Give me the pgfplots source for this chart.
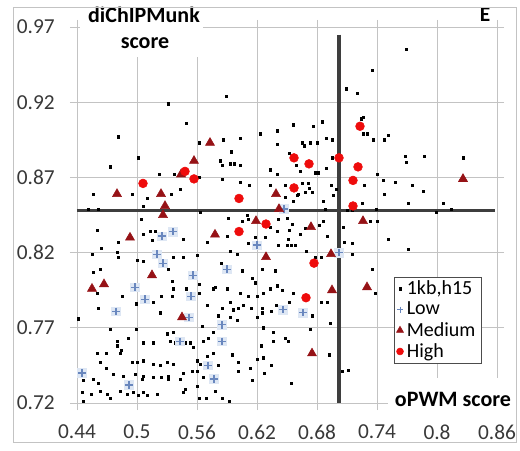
\documentclass[border=0pt]{standalone}
\usepackage{fontspec}
\setmainfont{Carlito}
\usepackage{pgfplots}
\pgfplotsset{compat=1.18}
\usepackage{pgfplotstable}

\definecolor{gridgray}{RGB}{195,195,195}
\definecolor{lowblue}{RGB}{105,135,190}
\definecolor{lowhalo}{RGB}{222,231,244}
\definecolor{medred}{RGB}{150,18,22}
\definecolor{highred}{RGB}{238,12,12}
\definecolor{refline}{RGB}{62,62,62}

% background set (1kb, h15)
\pgfplotstableread{
x y
0.531 0.919
0.589 0.924
0.549 0.906
0.481 0.897
0.562 0.893
0.501 0.883
0.473 0.877
0.522 0.872
0.537 0.872
0.562 0.870
0.456 0.859
0.495 0.859
0.510 0.856
0.534 0.859
0.543 0.862
0.506 0.851
0.451 0.849
0.461 0.849
0.563 0.847
0.504 0.842
0.769 0.955
0.735 0.941
0.709 0.929
0.720 0.926
0.726 0.910
0.724 0.909
0.730 0.899
0.726 0.899
0.751 0.898
0.747 0.895
0.736 0.895
0.768 0.884
0.769 0.880
0.787 0.884
0.826 0.883
0.740 0.872
0.727 0.865
0.746 0.868
0.758 0.867
0.775 0.865
0.786 0.861
0.747 0.859
0.771 0.853
0.806 0.853
0.814 0.849
0.799 0.847
0.725 0.853
0.739 0.849
0.733 0.841
0.740 0.841
0.460 0.835
0.481 0.827
0.506 0.832
0.513 0.834
0.518 0.834
0.515 0.828
0.546 0.829
0.546 0.817
0.464 0.823
0.455 0.819
0.481 0.817
0.480 0.820
0.500 0.815
0.506 0.814
0.456 0.807
0.463 0.809
0.531 0.809
0.536 0.817
0.535 0.801
0.560 0.818
0.570 0.827
0.460 0.793
0.461 0.783
0.441 0.776
0.485 0.791
0.499 0.786
0.524 0.791
0.516 0.787
0.523 0.780
0.535 0.791
0.536 0.796
0.549 0.796
0.562 0.799
0.562 0.793
0.576 0.796
0.570 0.785
0.473 0.769
0.480 0.761
0.480 0.758
0.484 0.755
0.499 0.769
0.491 0.763
0.506 0.760
0.516 0.760
0.533 0.761
0.536 0.767
0.530 0.766
0.538 0.760
0.548 0.760
0.553 0.760
0.556 0.757
0.560 0.748
0.563 0.746
0.560 0.741
0.555 0.741
0.546 0.740
0.536 0.746
0.530 0.747
0.523 0.745
0.516 0.746
0.500 0.747
0.495 0.747
0.506 0.748
0.483 0.753
0.469 0.753
0.460 0.753
0.463 0.747
0.469 0.743
0.456 0.736
0.461 0.733
0.463 0.728
0.446 0.735
0.445 0.727
0.454 0.726
0.476 0.739
0.486 0.738
0.498 0.739
0.505 0.736
0.506 0.738
0.516 0.737
0.524 0.737
0.531 0.738
0.531 0.736
0.543 0.736
0.548 0.729
0.560 0.731
0.566 0.737
0.546 0.727
0.520 0.726
0.501 0.725
0.510 0.725
0.506 0.727
0.496 0.727
0.490 0.726
0.483 0.728
0.473 0.723
0.470 0.726
0.446 0.721
0.562 0.723
0.569 0.723
0.576 0.753
0.570 0.751
0.571 0.763
0.566 0.761
0.565 0.771
0.576 0.767
0.751 0.829
0.771 0.822
0.735 0.809
0.738 0.793
0.656 0.905
0.640 0.901
0.676 0.904
0.685 0.907
0.623 0.899
0.603 0.896
0.586 0.895
0.594 0.887
0.640 0.892
0.665 0.893
0.667 0.891
0.673 0.893
0.680 0.893
0.689 0.896
0.695 0.895
0.652 0.886
0.583 0.881
0.593 0.879
0.597 0.879
0.603 0.878
0.585 0.878
0.659 0.878
0.663 0.874
0.633 0.875
0.640 0.872
0.678 0.873
0.681 0.873
0.689 0.876
0.695 0.883
0.694 0.865
0.699 0.862
0.696 0.858
0.686 0.854
0.656 0.854
0.665 0.866
0.672 0.863
0.671 0.866
0.675 0.860
0.668 0.860
0.661 0.859
0.648 0.865
0.633 0.865
0.612 0.865
0.603 0.867
0.585 0.869
0.648 0.857
0.660 0.858
0.710 0.848
0.715 0.848
0.688 0.849
0.591 0.843
0.610 0.845
0.611 0.842
0.605 0.841
0.641 0.842
0.650 0.843
0.655 0.839
0.633 0.837
0.640 0.834
0.652 0.835
0.663 0.832
0.668 0.836
0.682 0.838
0.686 0.841
0.690 0.831
0.641 0.825
0.650 0.825
0.654 0.825
0.658 0.825
0.651 0.829
0.628 0.830
0.611 0.826
0.618 0.830
0.600 0.819
0.593 0.821
0.590 0.831
0.669 0.821
0.678 0.817
0.684 0.817
0.715 0.819
0.715 0.826
0.707 0.827
0.706 0.837
0.584 0.813
0.605 0.808
0.615 0.803
0.618 0.800
0.625 0.809
0.638 0.808
0.633 0.796
0.640 0.798
0.645 0.795
0.656 0.793
0.611 0.791
0.620 0.791
0.626 0.793
0.603 0.793
0.590 0.796
0.578 0.797
0.593 0.787
0.585 0.783
0.596 0.782
0.601 0.783
0.606 0.785
0.614 0.783
0.625 0.783
0.625 0.780
0.634 0.781
0.639 0.785
0.652 0.787
0.675 0.778
0.684 0.787
0.690 0.787
0.581 0.778
0.593 0.777
0.600 0.775
0.620 0.777
0.626 0.770
0.673 0.769
0.693 0.773
0.636 0.767
0.648 0.763
0.651 0.761
0.636 0.761
0.624 0.758
0.595 0.752
0.581 0.745
0.601 0.747
0.626 0.750
0.620 0.749
0.634 0.745
0.613 0.743
0.601 0.741
0.627 0.740
0.615 0.735
0.692 0.752
0.654 0.733
0.578 0.728
0.585 0.723
0.592 0.721
0.705 0.741
0.711 0.742
}\dotdata

\pgfplotstableread{
x y
0.536 0.834
0.525 0.831
0.520 0.819
0.647 0.849
0.620 0.825
0.702 0.820
0.526 0.813
0.556 0.805
0.498 0.797
0.508 0.789
0.554 0.791
0.479 0.781
0.552 0.777
0.543 0.761
0.445 0.740
0.492 0.732
0.571 0.745
0.577 0.736
0.590 0.809
0.646 0.782
0.666 0.780
0.585 0.772
0.585 0.761
}\lowdata

\pgfplotstableread{
x y
0.573 0.893
0.557 0.881
0.544 0.872
0.480 0.859
0.524 0.859
0.528 0.851
0.526 0.845
0.493 0.830
0.578 0.832
0.639 0.859
0.642 0.849
0.619 0.841
0.674 0.837
0.629 0.817
0.694 0.819
0.826 0.869
0.726 0.841
0.695 0.795
0.675 0.753
0.730 0.797
0.515 0.805
0.467 0.799
0.455 0.796
0.545 0.777
}\meddata

\pgfplotstableread{
x y
0.506 0.866
0.548 0.874
0.557 0.869
0.657 0.883
0.672 0.879
0.702 0.883
0.723 0.904
0.721 0.877
0.716 0.868
0.716 0.851
0.657 0.863
0.602 0.856
0.629 0.839
0.602 0.834
0.677 0.813
0.669 0.790
}\highdata

\begin{document}
\begin{tikzpicture}
\useasboundingbox (-57.75pt,-35.25pt) rectangle (332.25pt,302.25pt);
\begin{axis}[
  at={(0pt,0pt)}, anchor=south west,
  scale only axis, width=315pt, height=282pt,
  xmin=0.44, xmax=0.86, ymin=0.72, ymax=0.97,
  xtick={0.44,0.5,0.56,0.62,0.68,0.74,0.8,0.86},
  xticklabels={0.44,0.5,0.56,0.62,0.68,0.74,0.8,0.86},
  ytick={0.72,0.77,0.82,0.87,0.92,0.97},
  yticklabels={0.72,0.77,0.82,0.87,0.92,0.97},
  grid=major,
  major grid style={gridgray, line width=0.7pt},
  axis line style={gridgray, line width=0.7pt},
  tick align=outside, major tick length=5.25pt,
  tick style={gridgray, line width=0.7pt},
  ticklabel style={font=\fontsize{16}{19}\selectfont, text=black!78, inner sep=0pt},
  xticklabel shift=11pt,
  yticklabel shift=11.25pt,
  legend style={at={(0.962,0.336)}, anchor=north east, draw=black!70,
    font=\fontsize{15}{17}\selectfont, inner sep=1.5pt, row sep=1pt,
    nodes={inner xsep=2.5pt, inner ysep=1.5pt}},
  legend cell align=left,
]
\addplot[only marks, mark=square*, mark size=0.85pt, black] table {\dotdata};
\addlegendentry{1kb,h15}
\addplot[only marks, mark=square*, mark size=3.2pt, lowhalo, forget plot] table {\lowdata};
\addplot[only marks, mark=+, mark size=2.8pt, lowblue, line width=0.9pt,
  legend image post style={mark size=2.2pt, line width=0.7pt}] table {\lowdata};
\addlegendentry{Low}
\addplot[only marks, mark=triangle*, mark size=3.9pt, medred,
  legend image post style={mark size=3pt}] table {\meddata};
\addlegendentry{Medium}
\addplot[only marks, mark=*, mark size=3.3pt, highred,
  legend image post style={mark size=2.6pt}] table {\highdata};
\addlegendentry{High}
\addplot[refline, line width=2.3pt, forget plot] coordinates {(0.44,0.848) (0.858,0.848)};
\addplot[refline, line width=2.3pt, forget plot] coordinates {(0.702,0.965) (0.702,0.72)};
\end{axis}
\fill[white] (2.5pt,259.5pt) rectangle (94.5pt,300pt);
\fill[white] (233.25pt,-12.75pt) rectangle (327.5pt,18.75pt);
\node[font=\bfseries\fontsize{16.5}{19}\selectfont] at (50.25pt,291pt) {diChIPMunk};
\node[font=\bfseries\fontsize{16.5}{19}\selectfont] at (51pt,270pt) {score};
\node[font=\bfseries\fontsize{16.5}{19}\selectfont] at (282pt,3pt) {oPWM score};
\node[font=\bfseries\fontsize{16}{19}\selectfont] at (306pt,291pt) {E};
\draw[gridgray, line width=0.7pt] (-48pt,-29.25pt) rectangle (329.25pt,297pt);
\end{tikzpicture}
\end{document}
